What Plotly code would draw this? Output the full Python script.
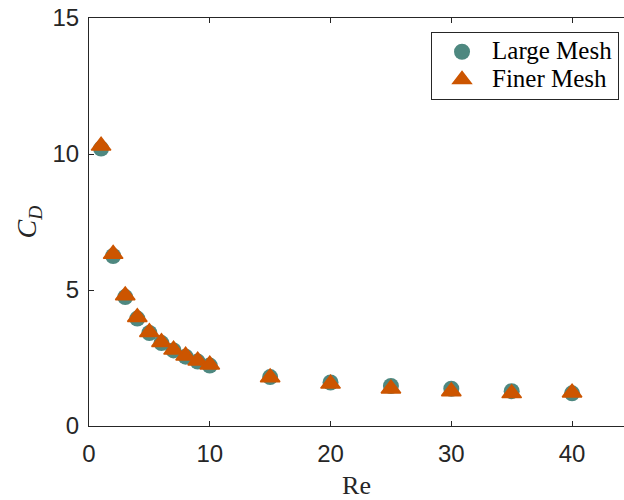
import plotly.graph_objects as go

# Reynolds numbers and drag coefficients for the two meshes
re = [1, 2, 3, 4, 5, 6, 7, 8, 9, 10, 15, 20, 25, 30, 35, 40]
cd_large = [10.2, 6.25, 4.74, 3.95, 3.42, 3.05, 2.78, 2.55, 2.37, 2.22,
            1.80, 1.60, 1.47, 1.37, 1.28, 1.20]
cd_finer = [10.3, 6.32, 4.80, 4.00, 3.45, 3.08, 2.80, 2.58, 2.40, 2.25,
            1.78, 1.55, 1.37, 1.27, 1.20, 1.22]
series_names = ["Large Mesh", "Finer Mesh"]

x_ticks = [0, 10, 20, 30, 40]
y_ticks = [0, 5, 10, 15]

teal = "#4E8880"
orange = "#CC5500"
axis_col = "#262626"

SANS = "Arial, 'Liberation Sans', Helvetica, sans-serif"
SERIF = "'Times New Roman', 'Liberation Serif', Times, serif"


def legend_label(name):
    # larger glyphs than the legend's row spacing would give by default
    return f'<span style="font-size:25px">{name}</span>'


fig = go.Figure()
fig.add_trace(go.Scatter(
    x=re, y=cd_large, mode="markers", name=legend_label(series_names[0]),
    marker=dict(symbol="circle", size=16, color=teal, line=dict(width=0)),
))
fig.add_trace(go.Scatter(
    x=re, y=cd_finer, mode="markers", name=legend_label(series_names[1]),
    marker=dict(symbol="triangle-up", size=17, color=orange,
                line=dict(width=1.5, color=orange)),
))

fig.update_layout(
    width=624, height=500,
    margin=dict(l=89, r=0, t=18, b=74),
    font=dict(family=SERIF, color="black"),
    plot_bgcolor="white", paper_bgcolor="white",
    showlegend=True,
    legend=dict(
        x=0.9907, y=0.966, xanchor="right", yanchor="top",
        bgcolor="white", bordercolor=axis_col, borderwidth=1,
        font=dict(family=SERIF, size=19, color="black"),
        itemwidth=50, tracegroupgap=0,
    ),
    xaxis=dict(
        range=[0, 44.3], tickvals=x_ticks, ticks="inside", ticklen=5,
        tickcolor=axis_col, showline=True, linecolor=axis_col, linewidth=1,
        mirror="ticks", showgrid=False, zeroline=False,
        ticklabelstandoff=6,
        tickfont=dict(family=SANS, size=24, color=axis_col),
        title=dict(text="Re", standoff=12,
                   font=dict(family=SERIF, size=26, color=axis_col)),
    ),
    yaxis=dict(
        range=[0, 15], tickvals=y_ticks, ticks="inside", ticklen=5,
        tickcolor=axis_col, showline=True, linecolor=axis_col, linewidth=1,
        mirror=False, showgrid=False, zeroline=False,
        ticklabelstandoff=4,
        tickfont=dict(family=SANS, size=24, color=axis_col),
        title=dict(text="<i>C</i><sub><i>D</i></sub>", standoff=7,
                   font=dict(family=SERIF, size=28, color=axis_col)),
    ),
)

fig.write_html("out.html")
